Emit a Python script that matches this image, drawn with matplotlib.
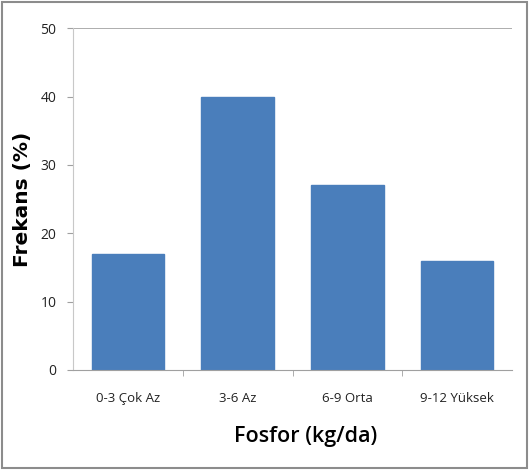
import matplotlib
matplotlib.use("Agg")
import matplotlib.pyplot as plt
from matplotlib.patches import Rectangle

categories = ["0-3 Çok Az", "3-6 Az", "6-9 Orta", "9-12 Yüksek"]
values = [17, 40, 27, 16]
yticks = [0, 10, 20, 30, 40, 50]

fig = plt.figure(figsize=(5.29, 4.70), dpi=100)
ax = fig.add_axes([0.138, 0.213, 0.830, 0.727])

x = list(range(len(categories)))
ax.bar(x, values, width=0.66, color="#4A7EBB", edgecolor="#4A7EBB")
ax.set_xlim(-0.5, 3.5)
ax.set_ylim(0, 50)
ax.set_yticks(yticks)
ax.set_yticklabels([str(v) for v in yticks], family="Open Sans", fontsize=10, color="#222222")
ax.set_xticks(x)
ax.set_xticklabels(categories, family="Open Sans", fontsize=9.5, color="#222222")
ax.tick_params(axis="y", length=4, color="#A0A0A0", pad=8)
ax.tick_params(axis="x", length=0, pad=16)
ax.set_xticks([0.5, 1.5, 2.5], minor=True)
ax.tick_params(axis="x", which="minor", length=4, color="#A0A0A0")

ax.axhline(50, color="#A0A0A0", lw=1.2, zorder=0)
for s in ["top", "right"]:
    ax.spines[s].set_visible(False)
ax.spines["left"].set_color("#C8C8C8")
ax.spines["bottom"].set_color("#A0A0A0")

ax.set_ylabel("Frekans (%)", family="DejaVu Sans", fontweight="bold", fontsize=14.5, labelpad=6)
ax.set_xlabel("Fosfor (kg/da)", family="Open Sans", fontweight="semibold", fontsize=15.5, labelpad=8)
ax.xaxis.set_label_coords(0.53, -0.165)

fig.patches.append(Rectangle((0.003, 0.004), 0.994, 0.992, transform=fig.transFigure,
                             fill=False, edgecolor="#8C8C8C", lw=1.5))

fig.savefig("out.png", dpi=100)
